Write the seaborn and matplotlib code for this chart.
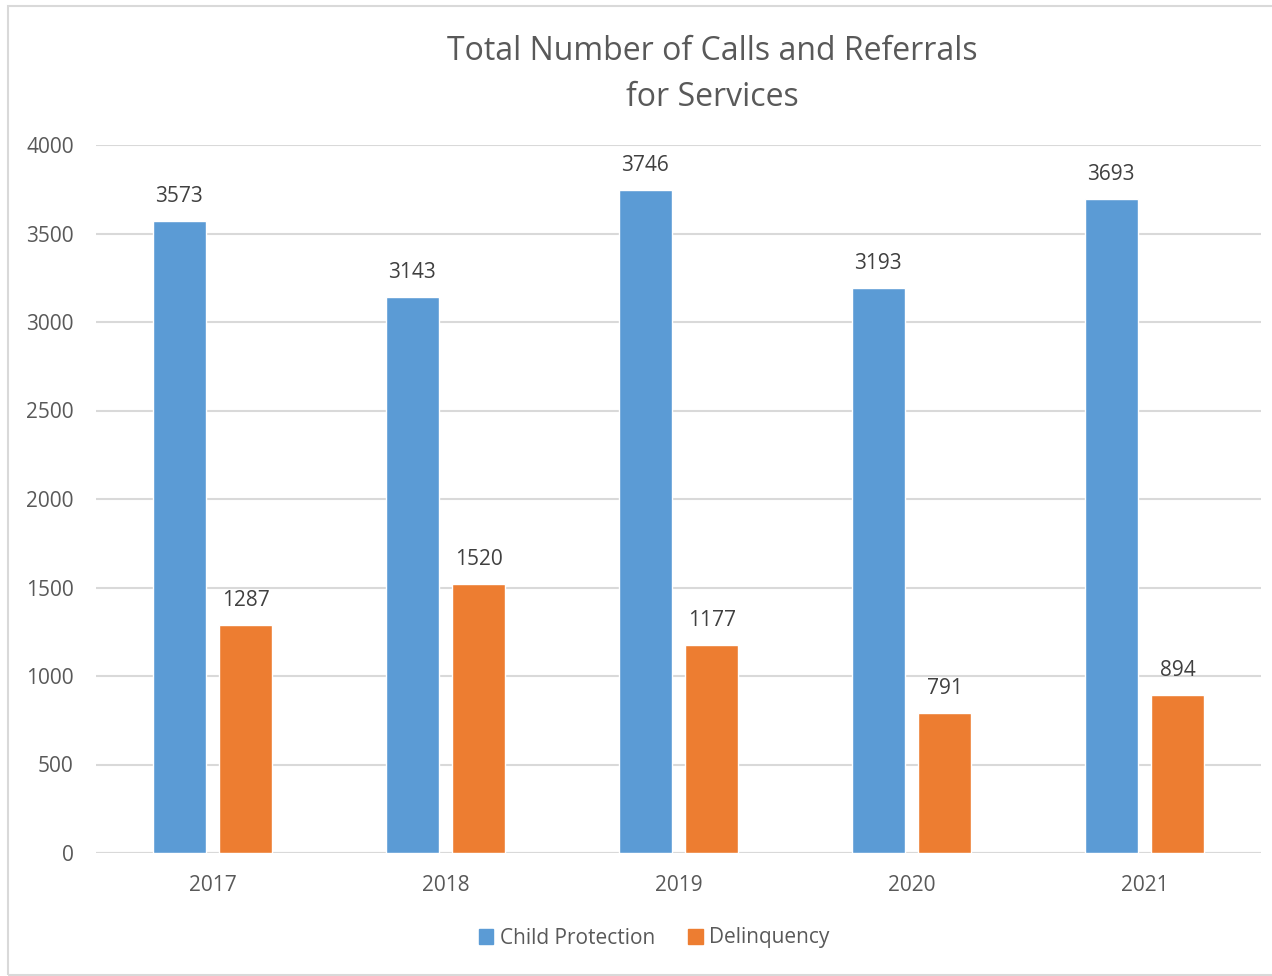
import matplotlib
matplotlib.use("Agg")
import matplotlib.pyplot as plt
import seaborn as sns
import pandas as pd
from matplotlib.patches import Rectangle

years = ["2017", "2018", "2019", "2020", "2021"]
child_protection = [3573, 3143, 3746, 3193, 3693]
delinquency = [1287, 1520, 1177, 791, 894]
series_names = ["Child Protection", "Delinquency"]
colors = ["#5B9BD5", "#ED7D31"]
yticks = [0, 500, 1000, 1500, 2000, 2500, 3000, 3500, 4000]

df = pd.DataFrame({
    "Year": years * 2,
    "Series": [series_names[0]] * len(years) + [series_names[1]] * len(years),
    "Count": child_protection + delinquency,
})

sns.set_theme(style="white")
plt.rcParams["font.family"] = ["Open Sans", "DejaVu Sans"]
text_color = "#595959"

fig = plt.figure(figsize=(12.72, 9.76), dpi=100)
ax = fig.add_axes([96 / 1272, 1 - 853 / 976, 1165 / 1272, 708 / 976])

sns.barplot(data=df, x="Year", y="Count", hue="Series", palette=colors,
            width=0.571, gap=0.21, ax=ax, legend=False, saturation=1)

ax.set_ylim(0, 4000)
ax.set_xlim(-0.5, 4.5)
ax.set_yticks(yticks)
ax.set_yticklabels([str(t) for t in yticks])
ax.yaxis.grid(True, color="#D9D9D9", linewidth=1.5)
ax.set_axisbelow(True)
for s in ax.spines.values():
    s.set_visible(False)
ax.axhline(0, color="#D9D9D9", linewidth=1.5, zorder=0)
ax.set_xlabel("")
ax.set_ylabel("")
ax.tick_params(axis="both", length=0, labelsize=15, labelcolor=text_color)
ax.tick_params(axis="y", pad=16)
ax.tick_params(axis="x", pad=16)

for cont in ax.containers:
    ax.bar_label(cont, labels=[f"{int(v)}" for v in cont.datavalues],
                 padding=10, fontsize=15, color="#404040")

fig.text(712 / 1272, 1 - 52 / 976, "Total Number of Calls and Referrals",
         ha="center", va="center", fontsize=23, color=text_color)
fig.text(712 / 1272, 1 - 98 / 976, "for Services",
         ha="center", va="center", fontsize=23, color=text_color)

handles = [Rectangle((0, 0), 1, 1, color=c) for c in colors]
fig.legend(handles, series_names, loc="center", bbox_to_anchor=(654 / 1272, 1 - 938 / 976),
           ncol=2, frameon=False, fontsize=15, labelcolor=text_color,
           handlelength=0.7, handleheight=0.7, handletextpad=0.3, columnspacing=1.6)

fig.patches.append(Rectangle((8 / 1272, 1 / 976), 1.1, 969 / 976, transform=fig.transFigure,
                             fill=False, edgecolor="#D9D9D9", linewidth=1.5))

fig.savefig("out.png", dpi=100)
